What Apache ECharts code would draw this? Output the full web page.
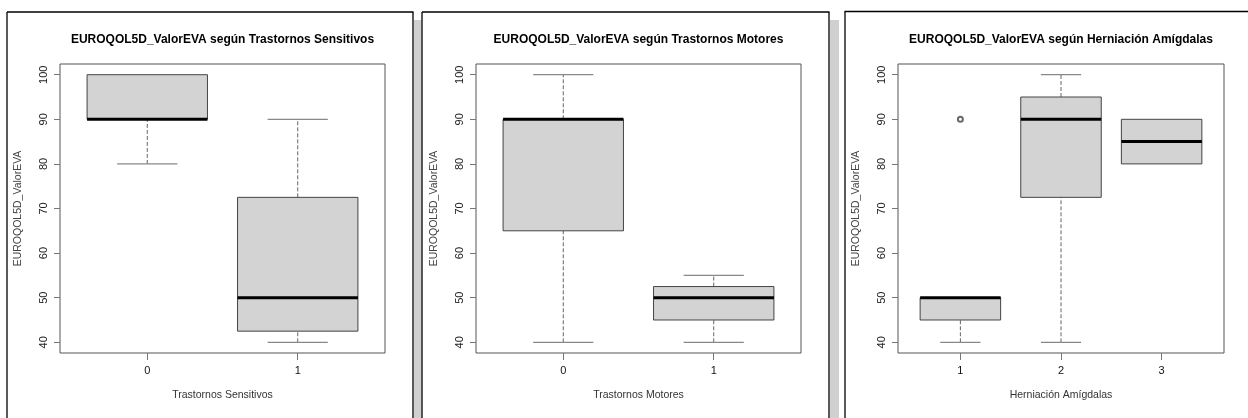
<!DOCTYPE html>
<html>
<head>
<meta charset="utf-8">
<script src="https://cdn.jsdelivr.net/npm/echarts@6/dist/echarts.min.js"></script>
<style>
  html, body { margin: 0; padding: 0; background: #fff; }
  #chart { width: 1248px; height: 418px; }
</style>
</head>
<body>
<div id="chart"></div>
<script>
// Box summaries per group: [min, Q1, median, Q3, max]
const sensitivosCats = ['0', '1'];
const sensitivosStats = [
  [80, 90, 90, 100, 100],
  [40, 42.5, 50, 72.5, 90]
];
const motoresCats = ['0', '1'];
const motoresStats = [
  [40, 65, 90, 90, 100],
  [40, 45, 50, 52.5, 55]
];
const herniacionCats = ['1', '2', '3'];
const herniacionStats = [
  [40, 45, 50, 50, 50],
  [40, 72.5, 90, 95, 100],
  [80, 80, 85, 90, 90]
];
// Outliers: [group position, value]
const herniacionOutliers = [[1, 90]];
const yTicks = [40, 50, 60, 70, 80, 90, 100];

const yTitle = 'EUROQOL5D_ValorEVA';
const panels = [
  { title: 'EUROQOL5D_ValorEVA según Trastornos Sensitivos', xName: 'Trastornos Sensitivos',
    cats: sensitivosCats, stats: sensitivosStats, outliers: [], left: 60, width: 325 },
  { title: 'EUROQOL5D_ValorEVA según Trastornos Motores', xName: 'Trastornos Motores',
    cats: motoresCats, stats: motoresStats, outliers: [], left: 476, width: 325 },
  { title: 'EUROQOL5D_ValorEVA según Herniación Amígdalas', xName: 'Herniación Amígdalas',
    cats: herniacionCats, stats: herniacionStats, outliers: herniacionOutliers, left: 898, width: 326 }
];

const FONT = '"Liberation Sans", Arial, sans-serif';
const GRID_TOP = 64, GRID_H = 289;
const Y_MIN = 37.6, Y_MAX = 102.4;

function renderBox(params, api) {
  const x = api.value(0);
  const lo = api.value(1), q1 = api.value(2), med = api.value(3), q3 = api.value(4), hi = api.value(5);
  const halfBox = 0.4, halfCap = 0.2;
  const c = (xx, yy) => api.coord([xx, yy]);
  const children = [];
  const whiskerStyle = { stroke: '#666', lineWidth: 1, lineDash: [4, 2] };
  const capStyle = { stroke: '#888', lineWidth: 1.3 };
  if (hi > q3) {
    const a = c(x, q3), b = c(x, hi);
    children.push({ type: 'line', shape: { x1: a[0], y1: a[1], x2: b[0], y2: b[1] }, style: whiskerStyle });
  }
  if (lo < q1) {
    const a = c(x, lo), b = c(x, q1);
    children.push({ type: 'line', shape: { x1: a[0], y1: a[1], x2: b[0], y2: b[1] }, style: whiskerStyle });
  }
  if (hi > q3) {
    const l = c(x - halfCap, hi), r = c(x + halfCap, hi);
    children.push({ type: 'line', shape: { x1: l[0], y1: l[1], x2: r[0], y2: r[1] }, style: capStyle });
  }
  if (lo < q1) {
    const l = c(x - halfCap, lo), r = c(x + halfCap, lo);
    children.push({ type: 'line', shape: { x1: l[0], y1: l[1], x2: r[0], y2: r[1] }, style: capStyle });
  }
  const tl = c(x - halfBox, q3), br = c(x + halfBox, q1);
  children.push({ type: 'rect',
    shape: { x: tl[0], y: tl[1], width: br[0] - tl[0], height: br[1] - tl[1] },
    style: { fill: '#d3d3d3', stroke: '#444', lineWidth: 1 } });
  const ml = c(x - halfBox, med), mr = c(x + halfBox, med);
  children.push({ type: 'line', shape: { x1: ml[0], y1: ml[1], x2: mr[0], y2: mr[1] },
    style: { stroke: '#000', lineWidth: 3 } });
  return { type: 'group', children };
}

const grids = [], xAxes = [], yAxes = [], series = [], graphics = [];

panels.forEach((p, i) => {
  const n = p.cats.length;
  const pad = n * 0.04;
  grids.push({ left: p.left, top: GRID_TOP, width: p.width, height: GRID_H,
    show: true, borderColor: '#555', borderWidth: 1, backgroundColor: 'transparent' });
  const positions = p.cats.map((_, k) => k + 1);
  xAxes.push({
    type: 'value', gridIndex: i, min: 0.5 - pad, max: n + 0.5 + pad,
    axisLine: { show: false },
    splitLine: { show: false },
    axisTick: { show: true, length: 7, customValues: positions, lineStyle: { color: '#777', width: 1 } },
    axisLabel: { customValues: positions, margin: 12, color: '#111', fontSize: 11, fontFamily: FONT,
      formatter: v => p.cats[Math.round(v) - 1] },
    name: p.xName, nameLocation: 'middle', nameGap: 37,
    nameTextStyle: { color: '#333', fontSize: 10.5, fontFamily: FONT }
  });
  yAxes.push({
    type: 'value', gridIndex: i, min: Y_MIN, max: Y_MAX,
    axisLine: { show: false },
    splitLine: { show: false },
    axisTick: { show: true, length: 6, customValues: yTicks, lineStyle: { color: '#777', width: 1 } },
    axisLabel: { customValues: yTicks, rotate: 90, margin: 11, color: '#222', fontSize: 11, fontFamily: FONT },
    name: yTitle, nameLocation: 'middle', nameGap: 36,
    nameTextStyle: { color: '#444', fontSize: 10.5, fontFamily: FONT }
  });
  series.push({
    type: 'custom', xAxisIndex: i, yAxisIndex: i, renderItem: renderBox,
    encode: { x: 0, y: [1, 2, 3, 4, 5] },
    data: p.stats.map((s, k) => [k + 1].concat(s))
  });
  if (p.outliers.length) {
    series.push({
      type: 'scatter', xAxisIndex: i, yAxisIndex: i, symbol: 'emptyCircle', symbolSize: 5,
      itemStyle: { color: '#444', borderColor: '#444', borderWidth: 1 },
      z: 5,
      data: p.outliers
    });
  }
  graphics.push({ type: 'text', x: p.left + p.width / 2, y: 40,
    style: { text: p.title, font: 'bold 12px ' + FONT, fill: '#000', textAlign: 'center', textVerticalAlign: 'middle' } });
});

// Panel frames and the grey separators between them
const frameStyle = { stroke: '#000', lineWidth: 1.3 };
const line = (x1, y1, x2, y2) => ({ type: 'line', shape: { x1, y1, x2, y2 }, style: frameStyle });
graphics.push(
  { type: 'rect', shape: { x: 414, y: 20, width: 7.5, height: 398 }, style: { fill: '#d0d0d0' } },
  { type: 'rect', shape: { x: 830, y: 20, width: 9, height: 398 }, style: { fill: '#d0d0d0' } },
  line(7, 12, 413.5, 12), line(7, 12, 7, 418), line(413, 12, 413, 418),
  line(422, 12, 829.5, 12), line(422, 12, 422, 418), line(829, 12, 829, 418),
  line(844.5, 11.5, 1248, 11.5), line(845, 11.5, 845, 418)
);

const chart = echarts.init(document.getElementById('chart'), null, { renderer: 'canvas' });
chart.setOption({
  animation: false,
  backgroundColor: '#fff',
  grid: grids,
  xAxis: xAxes,
  yAxis: yAxes,
  series: series,
  graphic: graphics
});
</script>
</body>
</html>
